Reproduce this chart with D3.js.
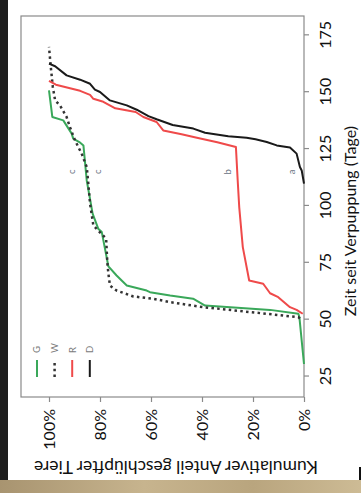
<!DOCTYPE html>
<html>
<head>
<meta charset="utf-8">
<script src="https://cdn.jsdelivr.net/npm/d3@7"></script>
<style>
  body { margin: 0; background: #fff; }
  svg { display: block; }
</style>
</head>
<body>
<div id="chart"></div>
<script>
const seriesNames = ["G", "W", "R", "D"];

const daysG = [30.5, 51, 52.6, 54.3, 56.2, 59.2, 60.6, 62.1, 62.8, 65.0, 69.4, 73.4, 88.5, 90.0, 96.6, 111.2, 126.6, 128.1, 129.6, 131.8, 137.6, 139.1, 150.8];
const pctG  = [0, 1.8, 2.2, 13.3, 38.8, 43.5, 52.5, 60.4, 61.7, 69.5, 73.5, 76.7, 79.3, 80.7, 82.9, 85.2, 86.5, 88.1, 90.5, 91.1, 94.4, 98.7, 100];

const daysW = [50.5, 51.1, 55.5, 57.7, 59.2, 60.2, 62.8, 65.0, 70.2, 74.6, 85.6, 91.4, 101.0, 111.2, 117.1, 123.0, 128.8, 134.7, 139.1, 144.2, 146.4, 152.3, 161.1, 169.9];
const pctW  = [1.6, 2.2, 39.5, 52.5, 59.1, 66.9, 73.5, 76.1, 76.7, 77.1, 77.6, 82.6, 83.9, 84.7, 85.2, 87.2, 89.8, 91.8, 93.1, 95.7, 97.6, 98.5, 99.3, 100];

const daysR = [52.6, 54.3, 55.5, 59.9, 61.6, 65.8, 67.2, 81.9, 99.5, 111.2, 125.9, 128.0, 130.0, 131.5, 133.2, 136.9, 139.1, 141.3, 142.9, 145.8, 147.1, 148.8, 150.6, 153.3, 155.0];
const pctR  = [0.5, 2.9, 5.5, 10.1, 13.3, 16.0, 21.5, 24.0, 25.4, 26.0, 26.7, 34.0, 42.0, 48.0, 55.2, 57.8, 63.0, 66.0, 74.0, 78.7, 82.6, 83.9, 87.8, 97.3, 100];

const daysD = [109.8, 115.6, 117.1, 123.0, 125.7, 126.6, 128.1, 129.3, 130.0, 130.6, 132.2, 134.0, 135.6, 138.1, 139.5, 142.3, 144.2, 146.4, 150.1, 151.1, 153.7, 155.5, 157.4, 161.4, 162.6];
const pctD  = [0, 0.9, 1.6, 2.9, 5.5, 10.7, 14.6, 19.0, 22.5, 29.7, 38.8, 43.4, 51.5, 57.8, 61.0, 65.6, 69.5, 76.1, 80.0, 82.0, 83.9, 87.8, 93.1, 97.6, 100];

const dayTicks = [25, 50, 75, 100, 125, 150, 175];
const pctTicks = [0, 20, 40, 60, 80, 100];

const sigLetters = ["c", "c", "b", "a"];
const sigPct = [91, 81, 30, 5];
const sigDay = 115;

const xTitle = "Zeit seit Verpuppung (Tage)";
const yTitle = "Kumulativer Anteil geschlüpfter Tiere";

// --- styles ---
const colors = { G: "#3aa85a", W: "#333333", R: "#ef4a4a", D: "#1a1a1a" };
const dashes = { G: null, W: "2.5,3.3", R: null, D: null };
const font = "Lato, 'Open Sans', sans-serif";
const axisGrey = "#8a8a8a";

const series = [
  { name: "G", days: daysG, pct: pctG },
  { name: "W", days: daysW, pct: pctW },
  { name: "R", days: daysR, pct: pctR },
  { name: "D", days: daysD, pct: pctD }
];

const width = 361, height = 493;
const plotW = 381, plotH = 283; // in the unrotated frame

const svg = d3.select("#chart").append("svg")
  .attr("width", width)
  .attr("height", height);

// photo surroundings
const defs = svg.append("defs");
const floor = defs.append("linearGradient").attr("id", "floor")
  .attr("x1", 0).attr("x2", 1).attr("y1", 0).attr("y2", 0);
floor.append("stop").attr("offset", "0%").attr("stop-color", "#a89470");
floor.append("stop").attr("offset", "40%").attr("stop-color", "#c7b48e");
floor.append("stop").attr("offset", "70%").attr("stop-color", "#b9a57e");
floor.append("stop").attr("offset", "100%").attr("stop-color", "#cdbb95");

svg.append("rect").attr("width", width).attr("height", height).attr("fill", "#fff");
svg.append("rect").attr("x", 0).attr("y", 0).attr("width", 8).attr("height", 480).attr("fill", "#1e1e1e");
svg.append("rect").attr("x", 0).attr("y", 480).attr("width", width).attr("height", 13).attr("fill", "url(#floor)");
svg.append("rect").attr("x", 359).attr("y", 467).attr("width", 2).attr("height", 13).attr("fill", "#111");

// the chart itself is drawn normally and then turned a quarter anticlockwise
const g = svg.append("g").attr("transform", "translate(21,397) rotate(-90)");

const x = d3.scaleLinear().domain([16, 183.5]).range([0, plotW]);
const y = d3.scaleLinear().domain([0, 100]).range([plotH, 28]);

g.append("rect")
  .attr("width", plotW).attr("height", plotH)
  .attr("fill", "none")
  .attr("stroke", axisGrey)
  .attr("stroke-width", 1.2);

const xAxis = g.append("g")
  .attr("transform", `translate(0,${plotH})`)
  .call(d3.axisBottom(x).tickValues(dayTicks).tickSize(5).tickSizeOuter(0));
xAxis.select(".domain").remove();
xAxis.selectAll(".tick line").attr("stroke", axisGrey).attr("stroke-width", 1.2);
xAxis.selectAll(".tick text")
  .attr("y", 21).attr("dy", "0.35em")
  .style("font-family", font).style("font-size", "16px").attr("fill", "#111");

const yAxis = g.append("g")
  .call(d3.axisLeft(y).tickValues(pctTicks).tickFormat(d => d + "%").tickSize(5).tickPadding(7).tickSizeOuter(0));
yAxis.select(".domain").remove();
yAxis.selectAll(".tick line").attr("stroke", axisGrey).attr("stroke-width", 1.2);
yAxis.selectAll(".tick text")
  .style("font-family", font).style("font-size", "16px").attr("fill", "#111");

g.append("text")
  .attr("x", 176).attr("y", 329).attr("dy", "0.35em")
  .attr("text-anchor", "middle")
  .style("font-family", font).style("font-size", "16px").attr("fill", "#111")
  .text(xTitle);

g.append("text")
  .attr("transform", "translate(-70,155) rotate(-90)")
  .attr("dy", "0.35em")
  .attr("text-anchor", "middle")
  .style("font-family", font).style("font-size", "17.5px").attr("fill", "#111")
  .text(yTitle);

// curves
const line = d3.line()
  .x(d => x(d[0]))
  .y(d => y(d[1]));

series.forEach(s => {
  const pts = s.days.map((d, i) => [d, s.pct[i]]);
  g.append("path")
    .datum(pts)
    .attr("d", line)
    .attr("fill", "none")
    .attr("stroke", colors[s.name])
    .attr("stroke-width", s.name === "W" ? 2.5 : 2)
    .attr("stroke-dasharray", dashes[s.name])
    .attr("stroke-linejoin", "round");
});

// significance letters
sigLetters.forEach((l, i) => {
  g.append("text")
    .attr("x", x(sigDay)).attr("y", y(sigPct[i])).attr("dy", "0.35em")
    .attr("text-anchor", "middle")
    .style("font-family", font).style("font-size", "9.5px").attr("fill", "#66707e")
    .text(l);
});

// legend (top-left of the unrotated plot)
const legend = g.append("g").attr("transform", "translate(20,16)");
seriesNames.forEach((n, i) => {
  const row = legend.append("g").attr("transform", `translate(0,${i * 17.6})`);
  row.append("line")
    .attr("x1", 0).attr("x2", 17)
    .attr("stroke", colors[n])
    .attr("stroke-width", n === "W" ? 2.5 : 2)
    .attr("stroke-dasharray", dashes[n]);
  row.append("text")
    .attr("x", 24).attr("dy", "0.35em")
    .style("font-family", font).style("font-size", "9.5px").attr("fill", "#7a7a7a")
    .text(n);
});
</script>
</body>
</html>
